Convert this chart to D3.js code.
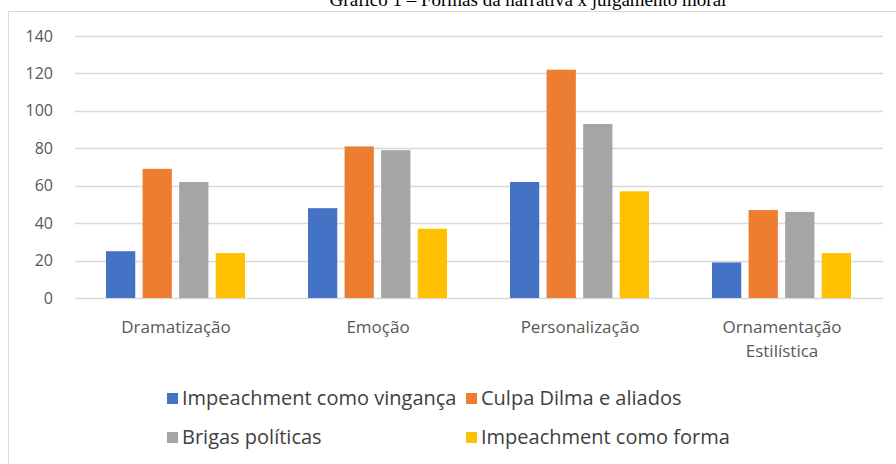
<!DOCTYPE html>
<html><head><meta charset="utf-8">
<script src="https://cdn.jsdelivr.net/npm/d3@7"></script>
<style>html,body{margin:0;padding:0;background:#fff;}</style>
</head><body>
<script>
const categories = [["Dramatização"],["Emoção"],["Personalização"],["Ornamentação","Estilística"]];
const seriesNames = ["Impeachment como vingança","Culpa Dilma e aliados","Brigas políticas","Impeachment como forma"];
const vinganca = [25, 48, 62, 19];
const culpa = [69, 81, 122, 47];
const brigas = [62, 79, 93, 46];
const forma = [24, 37, 57, 24];
const yTicks = [0,20,40,60,80,100,120,140];
const colors = ["#4472C4","#ED7D31","#A5A5A5","#FFC000"];
const series = [vinganca, culpa, brigas, forma];

const W=896,H=464;
const svg=d3.select("body").append("svg").attr("width",W).attr("height",H);
svg.append("rect").attr("width",W).attr("height",H).attr("fill","#fff");
// title (cut off at top, as in the reference)
svg.append("text").attr("x",528).attr("y",6).attr("text-anchor","middle")
  .attr("font-family","Liberation Serif, serif").attr("font-size",19).attr("fill","#000")
  .text("Gráfico 1 – Formas da narrativa x julgamento moral");
// chart border
svg.append("path").attr("d","M8.5,464 V11.5 H896").attr("fill","none").attr("stroke","#D9D9D9").attr("stroke-width",1);

const x0=d3.scaleBand().domain(d3.range(categories.length)).range([75,883]).padding(0);
const x1=d3.scaleBand().domain(d3.range(series.length)).range([31,x0.bandwidth()-32]).paddingInner(0.2);
const y=d3.scaleLinear().domain([0,140]).range([298,36]);

const font="'Open Sans', Lato, sans-serif";
// gridlines
svg.append("g").selectAll("line").data(yTicks).join("line")
  .attr("x1",75).attr("x2",883).attr("y1",d=>Math.round(y(d))+0.5).attr("y2",d=>Math.round(y(d))+0.5)
  .attr("stroke","#D9D9D9").attr("stroke-width",1.5);
// y labels
const yAxis=d3.axisLeft(y).tickValues(yTicks).tickSize(0).tickPadding(0);
const ga=svg.append("g").attr("transform","translate(53,0)").call(yAxis);
ga.select(".domain").remove();
ga.selectAll("text").attr("font-family",font).attr("font-size",16).attr("fill","#595959");

// bars
const g=svg.append("g");
categories.forEach((c,i)=>{
  series.forEach((s,j)=>{
    g.append("rect").attr("x",x0(i)+x1(j)).attr("width",x1.bandwidth())
     .attr("y",y(s[i])).attr("height",y(0)-y(s[i])).attr("fill",colors[j]);
  });
  const t=svg.append("text").attr("text-anchor","middle").attr("font-family",font)
    .attr("font-size",17).attr("fill","#595959");
  c.forEach((line,k)=>{
    t.append("tspan").attr("x",x0(i)+x0.bandwidth()/2).attr("y",333+k*24).text(line);
  });
});

// legend
const legPos=[[167,405],[466,405],[167,444],[466,444]];
seriesNames.forEach((n,j)=>{
  const [lx,ly]=legPos[j];
  svg.append("rect").attr("x",lx).attr("y",ly-12).attr("width",11).attr("height",11).attr("fill",colors[j]);
  svg.append("text").attr("x",lx+15).attr("y",ly).attr("font-family",font).attr("font-size",20)
    .attr("fill","#404040").text(n);
});
</script>
</body></html>
